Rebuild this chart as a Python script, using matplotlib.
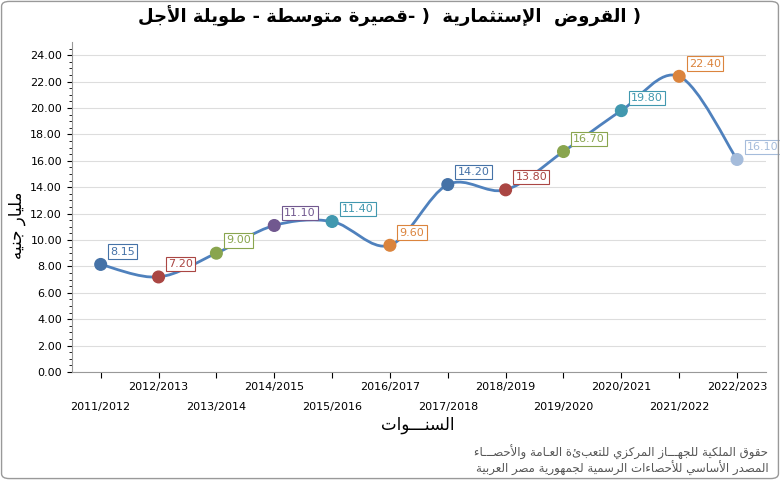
import numpy as np
import matplotlib.pyplot as plt
from matplotlib.path import Path
from matplotlib.patches import PathPatch, FancyBboxPatch

# Arabic shaping helper (matplotlib has no shaping)
FORMS = {
    'ء': (0xFE80, None, None, None), 'أ': (0xFE83, 0xFE84, None, None),
    'إ': (0xFE87, 0xFE88, None, None),
    'ا': (0xFE8D, 0xFE8E, None, None), 'ب': (0xFE8F, 0xFE90, 0xFE91, 0xFE92),
    'ة': (0xFE93, 0xFE94, None, None), 'ت': (0xFE95, 0xFE96, 0xFE97, 0xFE98),
    'ث': (0xFE99, 0xFE9A, 0xFE9B, 0xFE9C), 'ج': (0xFE9D, 0xFE9E, 0xFE9F, 0xFEA0),
    'ح': (0xFEA1, 0xFEA2, 0xFEA3, 0xFEA4), 'د': (0xFEA9, 0xFEAA, None, None),
    'ر': (0xFEAD, 0xFEAE, None, None), 'ز': (0xFEAF, 0xFEB0, None, None),
    'س': (0xFEB1, 0xFEB2, 0xFEB3, 0xFEB4), 'ص': (0xFEB9, 0xFEBA, 0xFEBB, 0xFEBC),
    'ض': (0xFEBD, 0xFEBE, 0xFEBF, 0xFEC0), 'ط': (0xFEC1, 0xFEC2, 0xFEC3, 0xFEC4),
    'ع': (0xFEC9, 0xFECA, 0xFECB, 0xFECC), 'ف': (0xFED1, 0xFED2, 0xFED3, 0xFED4),
    'ق': (0xFED5, 0xFED6, 0xFED7, 0xFED8), 'ك': (0xFED9, 0xFEDA, 0xFEDB, 0xFEDC),
    'ل': (0xFEDD, 0xFEDE, 0xFEDF, 0xFEE0), 'م': (0xFEE1, 0xFEE2, 0xFEE3, 0xFEE4),
    'ن': (0xFEE5, 0xFEE6, 0xFEE7, 0xFEE8), 'ه': (0xFEE9, 0xFEEA, 0xFEEB, 0xFEEC),
    'و': (0xFEED, 0xFEEE, None, None), 'ي': (0xFEF1, 0xFEF2, 0xFEF3, 0xFEF4),
}
LAMALEF = {'ا': (0xFEFB, 0xFEFC), 'أ': (0xFEF7, 0xFEF8), 'إ': (0xFEF9, 0xFEFA)}


def dual(c):
    return c == 'ـ' or (c in FORMS and FORMS[c][2] is not None)


def shape_word(w):
    chars = list(w)
    out = []
    i = 0
    while i < len(chars):
        c = chars[i]
        prev = chars[i - 1] if i > 0 else None
        join_prev = prev is not None and dual(prev)
        if c == 'ل' and i + 1 < len(chars) and chars[i + 1] in LAMALEF:
            out.append(chr(LAMALEF[chars[i + 1]][1 if join_prev else 0]))
            i += 2
            continue
        if c not in FORMS:
            out.append(c)
            i += 1
            continue
        nxt = chars[i + 1] if i + 1 < len(chars) else None
        join_next = dual(c) and nxt is not None and (nxt in FORMS or nxt == 'ـ')
        iso, fin, ini, med = FORMS[c]
        if join_prev and join_next:
            g = med
        elif join_prev:
            g = fin or iso
        elif join_next:
            g = ini
        else:
            g = iso
        out.append(chr(g))
        i += 1
    return ''.join(out[::-1])


def ar(text):
    return ' '.join(shape_word(w) for w in text.split(' ')[::-1])


# data
years = ['2011/2012', '2012/2013', '2013/2014', '2014/2015', '2015/2016', '2016/2017',
         '2017/2018', '2018/2019', '2019/2020', '2020/2021', '2021/2022', '2022/2023']
values = [8.15, 7.20, 9.00, 11.10, 11.40, 9.60, 14.20, 13.80, 16.70, 19.80, 22.40, 16.10]
colors = ['#4572A7', '#AA4643', '#89A54E', '#71588F', '#4198AF', '#DB843D',
          '#4572A7', '#AA4643', '#89A54E', '#4198AF', '#DB843D', '#A5BCDB']

fig = plt.figure(figsize=(7.8, 4.8), dpi=100)
ax = fig.add_axes([0.092, 0.225, 0.89, 0.6875])
x = np.arange(len(values))

# smooth line via cubic bezier (Catmull-Rom control points)
pts = np.column_stack([x, values])
verts = [pts[0]]
codes = [Path.MOVETO]
for i in range(len(pts) - 1):
    p0 = pts[i - 1] if i > 0 else pts[i]
    p3 = pts[i + 2] if i + 2 < len(pts) else pts[i + 1]
    c1 = pts[i] + (pts[i + 1] - p0) / 6
    c2 = pts[i + 1] - (p3 - pts[i]) / 6
    verts += [c1, c2, pts[i + 1]]
    codes += [Path.CURVE4] * 3
ax.add_patch(PathPatch(Path(verts, codes), fill=False, lw=2, color='#4F81BD', zorder=3))
ax.scatter(x, values, s=70, c=colors, zorder=4)
for xi, v, c in zip(x, values, colors):
    ax.annotate(f'{v:.2f}', (xi, v), xytext=(7, 7), textcoords='offset points',
                fontsize=8, color=c, zorder=5,
                bbox=dict(boxstyle='square,pad=0.2', fc='white', ec=c, lw=0.8))

ax.set_xlim(-0.5, 11.5)
ax.set_ylim(0, 25)
ax.set_yticks(np.arange(0, 25, 2))
ax.set_yticklabels([f'{t:.2f}' for t in np.arange(0, 25, 2)], fontsize=8)
ax.set_yticks(np.arange(0, 25, 0.5), minor=True)
ax.grid(axis='y', color='#DDDDDD', lw=0.8)
ax.set_axisbelow(True)
ax.set_xticks(x)
ax.set_xticklabels(years, fontsize=8)
for i, lab in enumerate(ax.get_xticklabels()):
    if i % 2 == 0:
        lab.set_y(-0.06)
ax.tick_params(axis='x', length=4)
for s in ['top', 'right']:
    ax.spines[s].set_visible(False)
for s in ['left', 'bottom']:
    ax.spines[s].set_color('#999999')

title = ' '.join([shape_word('الأجل'), shape_word('طويلة'), '-', shape_word('متوسطة'),
                  shape_word('قصيرة') + '-', ')', '', shape_word('الإستثمارية'), '',
                  shape_word('القروض'), ')'])
fig.text(0.5, 0.965, title, ha='center', va='center', fontsize=13, fontweight='bold')
fig.text(0.022, 0.53, ar('مليار جنيه'), rotation=90, ha='center', va='center', fontsize=12)
fig.text(0.535, 0.115, ar('السنـــوات'), ha='center', va='center', fontsize=12)
fig.text(0.985, 0.058, ar('حقوق الملكية للجهـــاز المركزي للتعبئة العـامة والأحصـــاء'),
         ha='right', va='center', fontsize=8.5, color='#555555')
fig.text(0.985, 0.025, ar('المصدر الأساسي للأحصاءات الرسمية لجمهورية مصر العربية'),
         ha='right', va='center', fontsize=8.5, color='#555555')

fig.patches.append(FancyBboxPatch((0.002, 0.003), 0.996, 0.994, boxstyle='round,pad=0,rounding_size=0.01',
                                  transform=fig.transFigure, fill=False, ec='#999999', lw=1))
fig.savefig('out.png', dpi=100)
